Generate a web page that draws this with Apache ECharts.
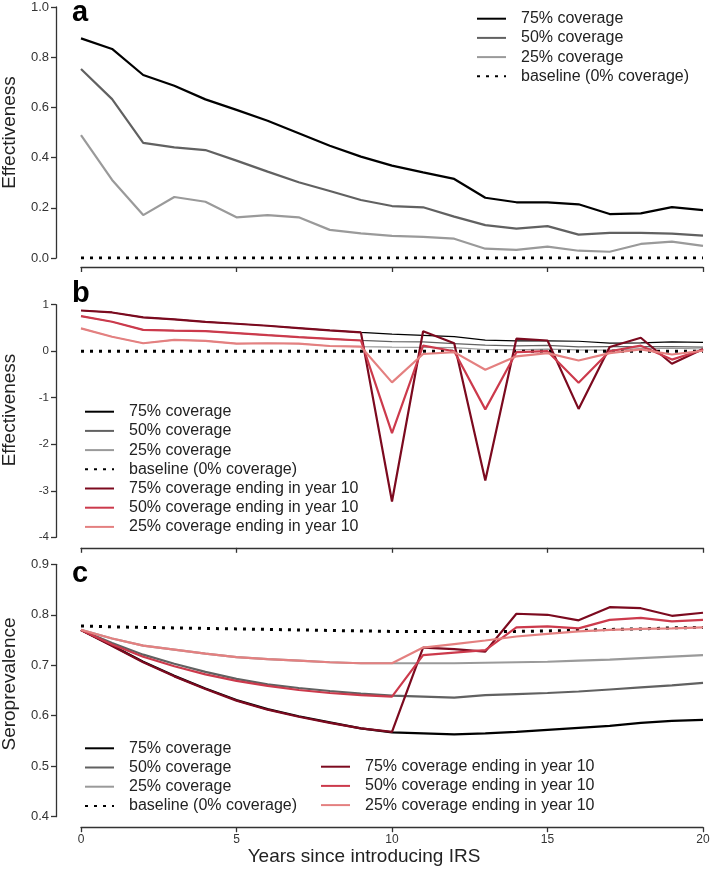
<!DOCTYPE html>
<html lang="en">
<head>
    <meta charset="UTF-8">
    <title>IRS effectiveness</title>
    <script src="https://cdn.jsdelivr.net/npm/echarts@6.0.0/dist/echarts.min.js"></script>
    <style>
        html, body { margin: 0; padding: 0; background: #fff; }
        #main { width: 712px; height: 870px; }
    </style>
</head>
<body>
<div id="main"></div>
<script>
    // years since IRS started
    var years = [0, 1, 2, 3, 4, 5, 6, 7, 8, 9, 10, 11, 12, 13, 14, 15, 16, 17, 18, 19, 20];

    // effectiveness, continuous coverage (panels a and b)
    var eff75 = [0.875, 0.833, 0.729, 0.686, 0.632, 0.590, 0.547, 0.497, 0.447, 0.404, 0.368, 0.341, 0.315, 0.240, 0.222, 0.222, 0.214, 0.175, 0.178, 0.203, 0.191];
    var eff50 = [0.753, 0.633, 0.459, 0.441, 0.430, 0.388, 0.344, 0.302, 0.267, 0.231, 0.207, 0.202, 0.165, 0.131, 0.117, 0.127, 0.093, 0.100, 0.100, 0.097, 0.089];
    var eff25 = [0.490, 0.311, 0.171, 0.243, 0.224, 0.162, 0.171, 0.162, 0.112, 0.098, 0.088, 0.084, 0.077, 0.037, 0.032, 0.045, 0.029, 0.025, 0.056, 0.065, 0.048];
    var effBase = [0, 0, 0, 0, 0, 0, 0, 0, 0, 0, 0, 0, 0, 0, 0, 0, 0, 0, 0, 0, 0];

    // effectiveness, coverage ending in year 10 (panel b)
    var effEnd75 = [0.875, 0.833, 0.729, 0.686, 0.632, 0.590, 0.547, 0.497, 0.447, 0.404, -3.23, 0.43, 0.17, -2.78, 0.27, 0.23, -1.24, 0.09, 0.29, -0.27, 0.05];
    var effEnd50 = [0.753, 0.633, 0.459, 0.441, 0.430, 0.388, 0.344, 0.302, 0.267, 0.231, -1.76, 0.12, 0.00, -1.25, -0.02, 0.00, -0.68, 0.00, 0.12, -0.18, 0.03];
    var effEnd25 = [0.490, 0.311, 0.171, 0.243, 0.224, 0.162, 0.171, 0.162, 0.112, 0.098, -0.67, -0.06, -0.02, -0.40, -0.11, -0.04, -0.20, -0.04, 0.04, -0.07, 0.01];

    // seroprevalence (panel c)
    var sero75 = [0.770, 0.739, 0.707, 0.679, 0.654, 0.631, 0.613, 0.599, 0.587, 0.575, 0.567, 0.565, 0.563, 0.565, 0.568, 0.572, 0.576, 0.580, 0.586, 0.590, 0.592];
    var sero50 = [0.770, 0.744, 0.721, 0.703, 0.687, 0.673, 0.662, 0.655, 0.649, 0.644, 0.640, 0.638, 0.636, 0.641, 0.643, 0.645, 0.648, 0.652, 0.656, 0.660, 0.665];
    var sero25 = [0.770, 0.753, 0.739, 0.731, 0.723, 0.716, 0.712, 0.709, 0.706, 0.704, 0.704, 0.704, 0.704, 0.705, 0.706, 0.707, 0.709, 0.711, 0.714, 0.717, 0.720];
    var seroBase = [0.778, 0.776, 0.775, 0.774, 0.773, 0.772, 0.771, 0.770, 0.769, 0.768, 0.767, 0.767, 0.767, 0.767, 0.767, 0.768, 0.769, 0.771, 0.772, 0.774, 0.775];
    var seroEnd75 = [0.770, 0.738, 0.706, 0.678, 0.653, 0.630, 0.612, 0.598, 0.586, 0.575, 0.568, 0.735, 0.732, 0.727, 0.802, 0.800, 0.789, 0.815, 0.813, 0.798, 0.804];
    var seroEnd50 = [0.770, 0.741, 0.717, 0.698, 0.682, 0.669, 0.659, 0.651, 0.645, 0.641, 0.638, 0.720, 0.725, 0.730, 0.775, 0.777, 0.773, 0.790, 0.794, 0.787, 0.790];
    var seroEnd25 = [0.770, 0.753, 0.739, 0.731, 0.723, 0.716, 0.712, 0.709, 0.706, 0.704, 0.704, 0.735, 0.742, 0.749, 0.757, 0.762, 0.767, 0.770, 0.772, 0.773, 0.775];

    var labels = ['75% coverage', '50% coverage', '25% coverage', 'baseline (0% coverage)',
        '75% coverage ending in year 10', '50% coverage ending in year 10', '25% coverage ending in year 10'];

    var FONT = '"Liberation Sans", Arial, Helvetica, sans-serif';
    var grey = ['#000000', '#616161', '#9a9a9a'];
    var reds = ['#7c0a1f', '#cc3a4c', '#e48080'];

    function pairs(ys) {
        return years.map(function (x, i) { return [x, ys[i]]; });
    }

    // panel prefix keeps legends separate, stripped in formatter
    function line(panel, label, ys, idx, color, width, dotted) {
        return {
            type: 'line',
            name: panel + ':' + label,
            xAxisIndex: idx,
            yAxisIndex: idx,
            data: pairs(ys),
            symbol: 'none',
            showSymbol: false,
            silent: true,
            lineStyle: {
                color: color,
                width: dotted ? 3 : width,
                type: dotted ? [3, 6] : 'solid',
                cap: 'butt'
            },
            itemStyle: { color: color }
        };
    }

    var series = [
        line('a', labels[0], eff75, 0, grey[0], 2.2),
        line('a', labels[1], eff50, 0, grey[1], 2.2),
        line('a', labels[2], eff25, 0, grey[2], 2.2),
        line('a', labels[3], effBase, 0, '#000', 3, true),

        line('b', labels[0], eff75, 1, grey[0], 1.2),
        line('b', labels[1], eff50, 1, grey[1], 1.2),
        line('b', labels[2], eff25, 1, grey[2], 1.2),
        line('b', labels[3], effBase, 1, '#000', 3, true),
        line('b', labels[4], effEnd75, 1, reds[0], 2.2),
        line('b', labels[5], effEnd50, 1, reds[1], 2.2),
        line('b', labels[6], effEnd25, 1, reds[2], 2.2),

        line('c', labels[0], sero75, 2, grey[0], 2.2),
        line('c', labels[1], sero50, 2, grey[1], 2.2),
        line('c', labels[2], sero25, 2, grey[2], 2.2),
        line('c', labels[3], seroBase, 2, '#000', 3, true),
        line('c', labels[4], seroEnd75, 2, reds[0], 2.2),
        line('c', labels[5], seroEnd50, 2, reds[1], 2.2),
        line('c', labels[6], seroEnd25, 2, reds[2], 2.2)
    ];

    var axisLine = { show: true, onZero: false, lineStyle: { color: '#333', width: 1.3 } };
    var axisTick = { show: true, length: 5, lineStyle: { color: '#333', width: 1.3 } };

    function xAxis(idx, showLabels) {
        var ax = {
            type: 'value', gridIndex: idx, min: 0, max: 20, interval: 5,
            offset: idx === 0 ? 9 : 10.5,
            axisLine: axisLine, axisTick: axisTick,
            splitLine: { show: false },
            axisLabel: { show: showLabels, fontFamily: FONT, fontSize: 12, color: '#333', margin: 6 }
        };
        if (showLabels) {
            ax.name = 'Years since introducing IRS';
            ax.nameLocation = 'middle';
            ax.nameGap = 20;
            ax.nameTextStyle = { fontFamily: FONT, fontSize: 19, color: '#222', padding: [0, 56, 0, 0] };
        }
        return ax;
    }

    function yAxis(idx, name, min, max, step, digits, fontSize, shift) {
        return {
            type: 'value', gridIndex: idx, min: min, max: max, interval: step,
            offset: 25,
            name: name, nameLocation: 'middle', nameGap: 37,
            nameTextStyle: { fontFamily: FONT, fontSize: 19, color: '#222', padding: [0, 0, 0, shift] },
            axisLine: axisLine, axisTick: axisTick,
            splitLine: { show: false },
            axisLabel: {
                fontFamily: FONT, fontSize: fontSize, color: '#333', margin: 7,
                formatter: function (v) { return v.toFixed(digits); }
            }
        };
    }

    function legend(names, left, top) {
        return {
            orient: 'vertical', left: left, top: top, padding: 0,
            itemWidth: 29, itemHeight: 14, itemGap: 3.2,
            selectedMode: false,
            data: names,
            itemStyle: { opacity: 0 },
            formatter: function (n) { return n.slice(2); },
            textStyle: { fontFamily: FONT, fontSize: 16, lineHeight: 16, color: '#222', padding: [0, 0, 0, 10] }
        };
    }

    function pref(p, list) {
        return list.map(function (l) { return p + ':' + l; });
    }

    function letter(t, y) {
        return {
            type: 'text', left: 72, top: y,
            style: { text: t, font: 'bold 29px ' + FONT, fill: '#000' }
        };
    }

    var option = {
        animation: false,
        backgroundColor: '#fff',
        grid: [
            { left: 81, width: 622, top: 7, height: 251, outerBoundsMode: 'none' },
            { left: 81, width: 622, top: 304.7, height: 232.6, outerBoundsMode: 'none' },
            { left: 81, width: 622, top: 564.3, height: 252.4, outerBoundsMode: 'none' }
        ],
        xAxis: [xAxis(0, false), xAxis(1, false), xAxis(2, true)],
        yAxis: [
            yAxis(0, 'Effectiveness', 0, 1, 0.2, 1, 13, 0),
            yAxis(1, 'Effectiveness', -4, 1, 1, 0, 11.5, 22),
            yAxis(2, 'Seroprevalence', 0.4, 0.9, 0.1, 1, 13, 13)
        ],
        legend: [
            legend(pref('a', labels.slice(0, 4)), 476, 10.7),
            legend(pref('b', labels), 84, 403.7),
            legend(pref('c', labels.slice(0, 4)), 84, 740.3),
            legend(pref('c', labels.slice(4)), 320, 758.7)
        ],
        graphic: [letter('a', -2), letter('b', 279), letter('c', 559)],
        series: series
    };

    var myChart = echarts.init(document.getElementById('main'), null, { renderer: 'canvas' });
    myChart.setOption(option);
</script>
</body>
</html>
